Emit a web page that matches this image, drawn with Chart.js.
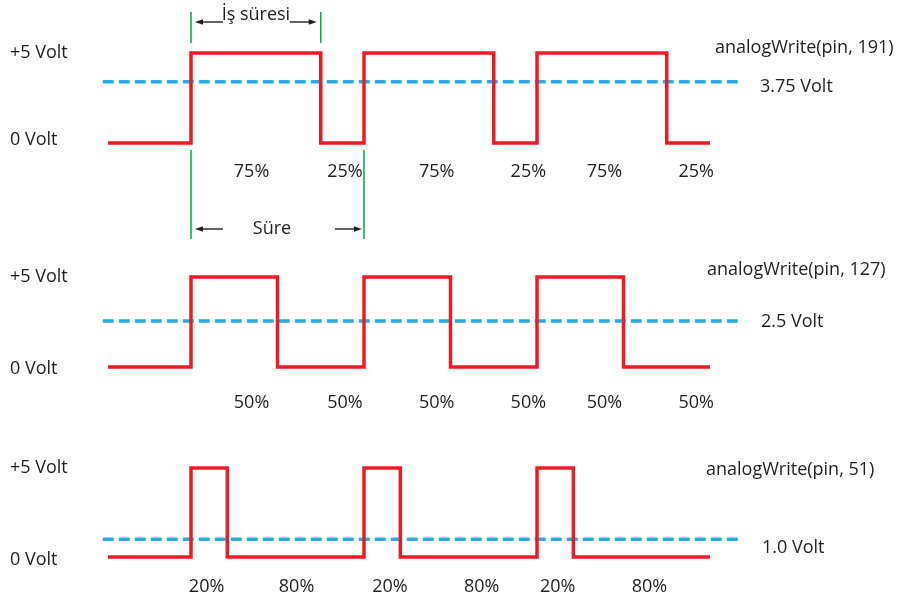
<!DOCTYPE html>
<html>
<head>
<meta charset="utf-8">
<script src="https://cdn.jsdelivr.net/npm/chart.js@4/dist/chart.umd.min.js"></script>
<style>
  html, body { margin: 0; padding: 0; background: #fff; }
  #wrap { position: relative; width: 899px; height: 601px; }
</style>
</head>
<body>
<div id="wrap"><canvas id="pwm"></canvas></div>
<script>
// time in PWM periods, 0 = first rising edge; level switches to value at each edge
const edges191 = [-0.48, 0, 0.75, 1, 1.75, 2, 2.75, 3];
const level191 = [0, 5, 0, 5, 0, 5, 0, 0];
const edges127 = [-0.48, 0, 0.5, 1, 1.5, 2, 2.5, 3];
const level127 = [0, 5, 0, 5, 0, 5, 0, 0];
const edges51 = [-0.48, 0, 0.21, 1, 1.21, 2, 2.21, 3];
const level51 = [0, 5, 0, 5, 0, 5, 0, 0];

// average voltage lines (dashed)
const avgSpan = [-0.51, 3.18];
const avgVolts = [3.4, 2.55, 1.0];

// texts
const callLabels = ["analogWrite(pin, 191)", "analogWrite(pin, 127)", "analogWrite(pin, 51)"];
const avgLabels = ["3.75 Volt", "2.5 Volt", "1.0 Volt"];
const levelLabels = ["+5 Volt", "0 Volt"];
const duty191 = ["75%", "25%", "75%", "25%", "75%", "25%"];
const duty127 = ["50%", "50%", "50%", "50%", "50%", "50%"];
const duty51 = ["20%", "80%", "20%", "80%", "20%", "80%"];
const workLabel = "İş süresi";
const periodLabel = "Süre";

// label placement (time units for x of the duty labels)
const dutyAt = [
  [0.35, 0.89, 1.42, 1.95, 2.39, 2.92],
  [0.35, 0.89, 1.42, 1.95, 2.39, 2.92],
  [0.09, 0.61, 1.15, 1.68, 2.12, 2.65],
];
const dutyY = [172, 403, 587];
const callPos = [[715, 48], [707, 270], [706, 470]];
const avgPos = [[760, 87], [761, 322], [762, 548]];
const zeroLabelY = [140, 369, 560];

const W = 899, H = 601;
const RED = "#ed1c24", BLUE = "#29abe2", GREEN = "#00a651", INK = "#231f20";

function toPoints(xs, ys) {
  return xs.map((x, i) => ({ x: x, y: ys[i] }));
}

// y range so that 0 V and 5 V land on given rows of the canvas
function band(zeroPx, fivePx) {
  const pxPerVolt = (zeroPx - fivePx) / 5;
  return { min: -(H - zeroPx) / pxPerVolt, max: zeroPx / pxPerVolt };
}

function wave(xs, ys, axis) {
  return {
    data: toPoints(xs, ys),
    yAxisID: axis,
    stepped: "before",
    borderColor: RED,
    borderWidth: 3.5,
    borderJoinStyle: "miter",
    borderCapStyle: "butt",
    pointRadius: 0,
    fill: false,
  };
}

function average(v, axis) {
  return {
    data: toPoints(avgSpan, [v, v]),
    yAxisID: axis,
    borderColor: BLUE,
    borderWidth: 3.5,
    borderDash: [11, 5],
    borderCapStyle: "butt",
    pointRadius: 0,
    fill: false,
  };
}

function arrow(ctx, fromX, toX, y) {
  const dir = Math.sign(toX - fromX);
  ctx.beginPath();
  ctx.moveTo(fromX, y);
  ctx.lineTo(toX - dir * 6, y);
  ctx.stroke();
  ctx.beginPath();
  ctx.moveTo(toX, y);
  ctx.lineTo(toX - dir * 8, y - 2.8);
  ctx.lineTo(toX - dir * 8, y + 2.8);
  ctx.closePath();
  ctx.fill();
}

const annotate = {
  id: "annotate",
  afterDatasetsDraw(chart) {
    const { ctx, scales } = chart;
    const xs = scales.x;
    const ys = [scales.y1, scales.y2, scales.y3];
    const duties = [duty191, duty127, duty51];

    ctx.save();
    ctx.fillStyle = INK;
    ctx.font = '18px "Open Sans", sans-serif';
    ctx.textBaseline = "middle";

    ys.forEach((y, i) => {
      ctx.textAlign = "left";
      ctx.fillText(levelLabels[0], 10, y.getPixelForValue(5));
      ctx.fillText(levelLabels[1], 10, zeroLabelY[i]);
      ctx.fillText(callLabels[i], callPos[i][0], callPos[i][1]);
      ctx.fillText(avgLabels[i], avgPos[i][0], avgPos[i][1]);
      ctx.textAlign = "center";
      duties[i].forEach((t, k) => {
        ctx.fillText(t, xs.getPixelForValue(dutyAt[i][k]), dutyY[i]);
      });
    });

    // period / on-time markers on the top wave
    const x0 = xs.getPixelForValue(edges191[1]);
    const xOn = xs.getPixelForValue(edges191[2]);
    const xPer = xs.getPixelForValue(edges191[3]);
    ctx.strokeStyle = GREEN;
    ctx.lineWidth = 1.5;
    ctx.beginPath();
    ctx.moveTo(x0, 12); ctx.lineTo(x0, 43);
    ctx.moveTo(xOn, 12); ctx.lineTo(xOn, 43);
    ctx.moveTo(x0, 150); ctx.lineTo(x0, 239);
    ctx.moveTo(xPer, 150); ctx.lineTo(xPer, 239);
    ctx.stroke();

    ctx.strokeStyle = INK;
    ctx.lineWidth = 1.4;
    ctx.textAlign = "center";
    ctx.fillText(workLabel, (x0 + xOn) / 2, 15);
    arrow(ctx, x0 + 32, x0 + 4, 22);
    arrow(ctx, xOn - 31, xOn - 4, 22);
    ctx.fillText(periodLabel, 272, 229);
    arrow(ctx, x0 + 32, x0 + 4, 229);
    arrow(ctx, xPer - 29, xPer - 2, 229);
    ctx.restore();
  },
};

new Chart(document.getElementById("pwm"), {
  type: "line",
  data: {
    datasets: [
      wave(edges191, level191, "y1"),
      wave(edges127, level127, "y2"),
      wave(edges51, level51, "y3"),
      average(avgVolts[0], "y1"),
      average(avgVolts[1], "y2"),
      average(avgVolts[2], "y3"),
    ],
  },
  options: {
    responsive: true,
    maintainAspectRatio: false,
    animation: false,
    layout: { padding: 0 },
    plugins: {
      legend: { display: false },
      tooltip: { enabled: false },
    },
    scales: {
      x: { type: "linear", display: false, min: -191 / 173, max: (W - 191) / 173, bounds: "data" },
      y1: Object.assign({ type: "linear", display: false, bounds: "data" }, band(143, 53)),
      y2: Object.assign({ type: "linear", display: false, bounds: "data" }, band(367, 277)),
      y3: Object.assign({ type: "linear", display: false, bounds: "data" }, band(557, 468)),
    },
  },
  plugins: [annotate],
});
</script>
</body>
</html>
